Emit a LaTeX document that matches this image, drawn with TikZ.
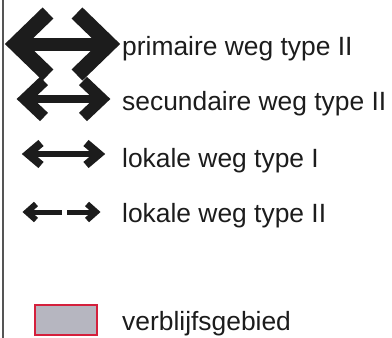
\documentclass[tikz,border=0pt]{standalone}
\usepackage{fontspec}
\setmainfont{Liberation Sans}
\definecolor{ink}{RGB}{28,28,28}
\definecolor{framegray}{RGB}{85,85,85}
\definecolor{areafill}{RGB}{182,182,192}
\definecolor{areared}{RGB}{212,32,60}
\begin{document}
\begin{tikzpicture}[x=1pt,y=-1pt,
  legendtext/.style={anchor=base west,inner sep=0pt,text=ink,font=\fontsize{26.4}{30}\selectfont},
  chev/.style={draw=ink,line join=miter,line cap=butt},
  shaft/.style={draw=ink,line cap=butt}]
\useasboundingbox (0,0) rectangle (392,338);
\draw[framegray,line width=2] (3,0) -- (3,338);
% arrow 1: primaire weg type II
\coordinate (a1l) at (16,44);
\coordinate (a1r) at (109,44);
\draw[shaft,line width=13] (a1l) -- (a1r);
\draw[chev,line width=15.5] (a1l) ++(32,-31) -- (a1l) -- ++(32,31);
\draw[chev,line width=15.5] (a1r) ++(-32,-31) -- (a1r) -- ++(-32,31);
\node[legendtext] (t1) at (122,55) {primaire weg type II};
% arrow 2: secundaire weg type II
\coordinate (a2l) at (25,99);
\coordinate (a2r) at (102,99);
\draw[shaft,line width=8] (a2l) -- (a2r);
\draw[chev,line width=11.5] (a2l) ++(19,-18) -- (a2l) -- ++(19,18);
\draw[chev,line width=11.5] (a2r) ++(-19,-18) -- (a2r) -- ++(-19,18);
\node[legendtext] (t2) at (122,110) {secundaire weg type II};
% arrow 3: lokale weg type I
\coordinate (a3l) at (28,154);
\coordinate (a3r) at (99,154);
\draw[shaft,line width=6] (a3l) -- (a3r);
\draw[chev,line width=8] (a3l) ++(13,-11) -- (a3l) -- ++(13,11);
\draw[chev,line width=8] (a3r) ++(-13,-11) -- (a3r) -- ++(-13,11);
\node[legendtext] (t3) at (122,167) {lokale weg type I};
% arrow 4: lokale weg type II
\coordinate (a4l) at (27,212);
\coordinate (a4r) at (96,212);
\coordinate (a4m1) at (62,212);
\coordinate (a4m2) at (67,212);
\draw[shaft,line width=5] (a4l) -- (a4m1);
\draw[shaft,line width=5] (a4m2) -- (a4r);
\draw[chev,line width=6] (a4l) ++(9,-8) -- (a4l) -- ++(9,8);
\draw[chev,line width=6] (a4r) ++(-9,-8) -- (a4r) -- ++(-9,8);
\node[legendtext] (t4) at (122,222) {lokale weg type II};
% area
\node[draw=areared,fill=areafill,line width=2,minimum width=62,minimum height=30,inner sep=0pt,anchor=north west] (area) at (34,304) {};
\node[legendtext] (t5) at (122,330) {verblijfsgebied};
\end{tikzpicture}
\end{document}
